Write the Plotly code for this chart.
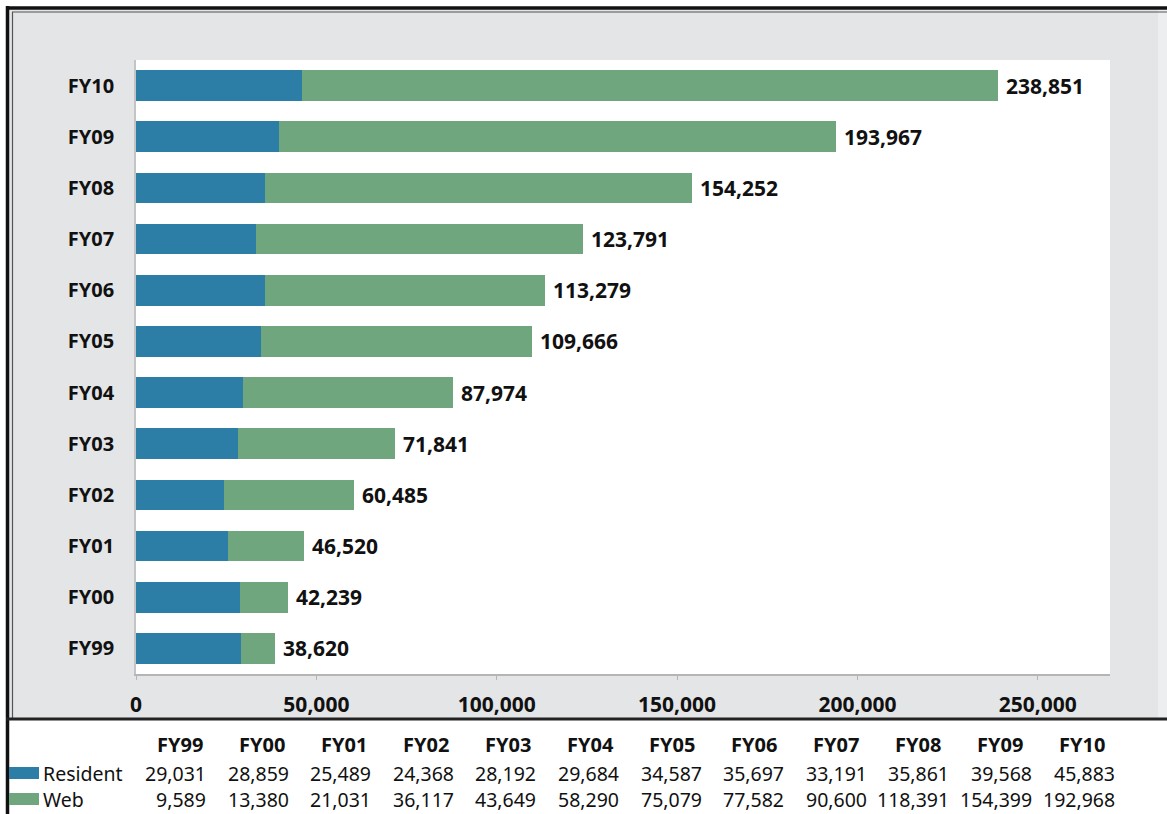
import plotly.graph_objects as go

# Fiscal years and course completions by delivery mode
years = ["FY99", "FY00", "FY01", "FY02", "FY03", "FY04",
         "FY05", "FY06", "FY07", "FY08", "FY09", "FY10"]
resident = [29031, 28859, 25489, 24368, 28192, 29684,
            34587, 35697, 33191, 35861, 39568, 45883]
web = [9589, 13380, 21031, 36117, 43649, 58290,
       75079, 77582, 90600, 118391, 154399, 192968]
totals = [38620, 42239, 46520, 60485, 71841, 87974,
          109666, 113279, 123791, 154252, 193967, 238851]
tick_vals = [0, 50000, 100000, 150000, 200000, 250000]

BLUE = "#2c7ea7"
GREEN = "#6fa67e"
INK = "#111111"
FONT = "Noto Sans"

W, H = 1167, 814
L, R, T, B = 136, 57, 60, 140
PW, PH = W - L - R, H - T - B


def fx(px):
    return (px - L) / PW


def fy(py):
    return (H - B - py) / PH


fig = go.Figure()
fig.add_trace(go.Bar(y=years, x=resident, orientation="h", name="Resident",
                     marker=dict(color=BLUE, line=dict(width=0))))
fig.add_trace(go.Bar(y=years, x=web, orientation="h", name="Web",
                     marker=dict(color=GREEN, line=dict(width=0))))

shapes = [
    # grey chart panel with the white plotting area on top of it
    dict(type="rect", xref="paper", yref="paper", layer="below",
         x0=fx(9), x1=fx(W + 5), y0=fy(719), y1=fy(9),
         fillcolor="#e4e5e7", line=dict(width=0)),
    dict(type="rect", xref="paper", yref="paper", layer="below",
         x0=fx(1158), x1=fx(W + 5), y0=fy(719), y1=fy(9),
         fillcolor="#eceef0", line=dict(width=0)),
    dict(type="rect", xref="paper", yref="paper", layer="below",
         x0=0, x1=1, y0=0, y1=1,
         fillcolor="white", line=dict(width=0)),
    # frame lines
    dict(type="line", xref="paper", yref="paper",
         x0=fx(6), x1=fx(W + 5), y0=fy(8), y1=fy(8),
         line=dict(color=INK, width=3.5)),
    dict(type="line", xref="paper", yref="paper",
         x0=fx(12), x1=fx(W + 5), y0=fy(12), y1=fy(12),
         line=dict(color="#555555", width=1.2)),
    dict(type="line", xref="paper", yref="paper",
         x0=fx(7.5), x1=fx(7.5), y0=fy(6), y1=fy(H + 5),
         line=dict(color=INK, width=3.5)),
    dict(type="line", xref="paper", yref="paper",
         x0=fx(12.5), x1=fx(12.5), y0=fy(12), y1=fy(719),
         line=dict(color="#555555", width=1.2)),
    dict(type="line", xref="paper", yref="paper",
         x0=fx(6), x1=fx(W + 5), y0=fy(719), y1=fy(719),
         line=dict(color="#222222", width=3)),
]

annotations = []
# total at the end of each bar
for yr, tot in zip(years, totals):
    annotations.append(dict(x=tot, y=yr, xref="x", yref="y",
                            text=f"<b>{tot:,}</b>", showarrow=False,
                            xanchor="left", yanchor="middle", xshift=6,
                            font=dict(family=FONT, size=21, color=INK)))

# data table under the chart
head_x0, head_step = 180, 82
val_x0, val_step = 208, 82.6
row_y = {"head": 744, "Resident": 773, "Web": 799}
for i, yr in enumerate(years):
    annotations.append(dict(x=fx(head_x0 + head_step * i), y=fy(row_y["head"]),
                            xref="paper", yref="paper",
                            text=f"<b>{yr}</b>", showarrow=False,
                            xanchor="center", yanchor="middle",
                            font=dict(family=FONT, size=20, color=INK)))
    for name, series in (("Resident", resident), ("Web", web)):
        annotations.append(dict(x=fx(val_x0 + val_step * i), y=fy(row_y[name]),
                                xref="paper", yref="paper",
                                text=f"{series[i]:,}", showarrow=False,
                                xanchor="right", yanchor="middle",
                                font=dict(family=FONT, size=19.5, color=INK)))

for name, color in (("Resident", BLUE), ("Web", GREEN)):
    yy = row_y[name]
    shapes.append(dict(type="rect", xref="paper", yref="paper",
                       x0=fx(9), x1=fx(39), y0=fy(yy + 6), y1=fy(yy - 6),
                       fillcolor=color, line=dict(width=0)))
    annotations.append(dict(x=fx(41), y=fy(yy), xref="paper", yref="paper",
                            text=name, showarrow=False, xanchor="left",
                            yanchor="middle",
                            font=dict(family=FONT, size=19.5, color=INK)))

fig.update_layout(
    width=W, height=H,
    margin=dict(l=L, r=R, t=T, b=B, pad=0),
    paper_bgcolor="white",
    plot_bgcolor="white",
    barmode="stack",
    bargap=0.4,
    showlegend=False,
    shapes=shapes,
    annotations=annotations,
    xaxis=dict(range=[0, 270000], tickvals=tick_vals,
               ticktext=[f"<b>{v:,}</b>" for v in tick_vals],
               showgrid=False, zeroline=False,
               showline=True, linecolor="#b5b5b5", linewidth=1.5,
               ticks="outside", ticklen=4, tickcolor="#b5b5b5",
               ticklabelstandoff=7,
               tickfont=dict(family=FONT, size=21, color=INK),
               fixedrange=True),
    yaxis=dict(showgrid=False, zeroline=False,
               showline=True, linecolor="#c4c4c4", linewidth=1.5,
               ticks="", ticklabelstandoff=16,
               tickvals=years, ticktext=[f"<b>{y}</b>" for y in years],
               tickfont=dict(family=FONT, size=20, color=INK),
               range=[-0.5, 11.5], fixedrange=True),
)

fig.write_html("out.html")
